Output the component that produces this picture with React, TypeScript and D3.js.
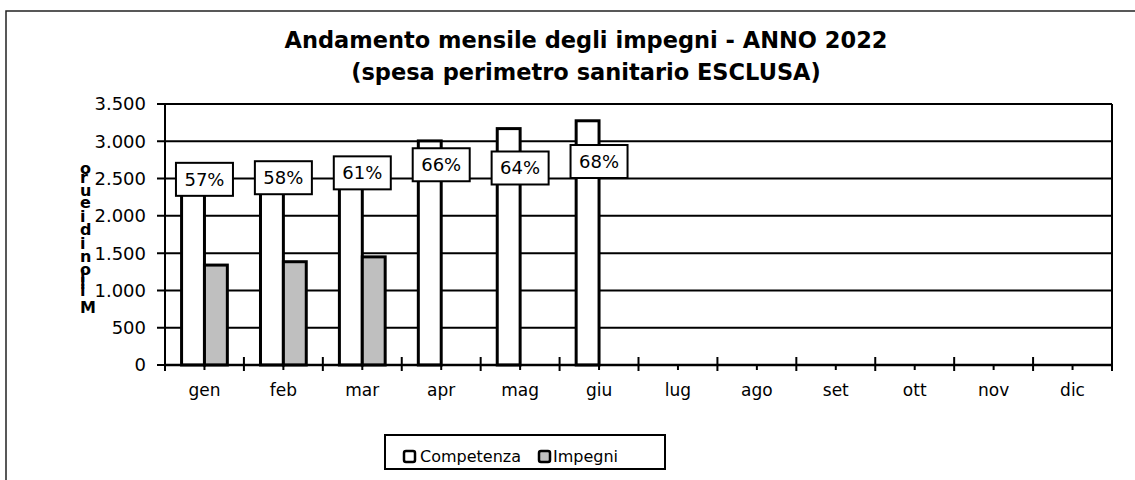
import React from 'react';
import * as d3 from 'd3';

const months = ['gen', 'feb', 'mar', 'apr', 'mag', 'giu', 'lug', 'ago', 'set', 'ott', 'nov', 'dic'];
const competenza = [2350, 2390, 2380, 3005, 3170, 3275];
const impegni = [1340, 1385, 1450];
const percentuali = [0.57, 0.58, 0.61, 0.66, 0.64, 0.68];
const yTicks = [0, 500, 1000, 1500, 2000, 2500, 3000, 3500];
const yLabel = 'Milioni di euro';
const title1 = 'Andamento mensile degli impegni - ANNO 2022';
const title2 = '(spesa perimetro sanitario ESCLUSA)';

const W = 1135;
const H = 480;
const plot = { left: 165, right: 1112, top: 104, bottom: 365 };
const font = '"DejaVu Sans", Verdana, sans-serif';

const itFormat = d3.formatLocale({ decimal: ',', thousands: '.', grouping: [3], currency: ['€', ''] }).format(',d');

export default function App() {
  const x = d3.scaleBand<string>().domain(months).range([plot.left, plot.right]);
  const y = d3.scaleLinear().domain([0, 3500]).range([plot.bottom, plot.top]);
  // labels sit on a hidden secondary series
  const y2 = d3.scaleLinear().domain([-0.576, 1.035]).range([plot.bottom, plot.top]);
  const bw = x.bandwidth();
  const barW = bw * 0.29;
  const offs = bw * 0.21;
  const pct = d3.format('.0%');

  const boundaries = months.map((m) => x(m)!).concat([plot.right]);

  return (
    <svg width={W} height={H} style={{ position: 'absolute', left: 0, top: 0 }} fontFamily={font}>
      <rect x={0} y={0} width={W} height={H} fill="#fff" />
      <rect x={6} y={11} width={W + 20} height={H + 20} fill="none" stroke="#222" strokeWidth={1.5} />

      <text x={586} y={48} textAnchor="middle" fontSize={22.5} fontWeight="bold">{title1}</text>
      <text x={586} y={80} textAnchor="middle" fontSize={22.5} fontWeight="bold">{title2}</text>

      {/* grid */}
      {yTicks.map((t) => (
        <line key={t} x1={plot.left - 8} x2={plot.right} y1={y(t)} y2={y(t)} stroke="#000" strokeWidth={2} />
      ))}
      <line x1={plot.right} x2={plot.right} y1={plot.top} y2={plot.bottom + 6} stroke="#000" strokeWidth={2} />

      {yTicks.map((t) => (
        <text key={'l' + t} x={146} y={y(t)} dy="0.36em" textAnchor="end" fontSize={18}>{itFormat(t)}</text>
      ))}

      {/* bars */}
      {competenza.map((v, i) => (
        <rect key={'c' + i} x={x(months[i])! + offs} y={y(v)} width={barW} height={y(0) - y(v)}
          fill="#fff" stroke="#000" strokeWidth={3} />
      ))}
      {impegni.map((v, i) => (
        <rect key={'i' + i} x={x(months[i])! + offs + barW} y={y(v)} width={barW} height={y(0) - y(v)}
          fill="#bfbfbf" stroke="#000" strokeWidth={3} />
      ))}

      {/* axes */}
      <line x1={plot.left} x2={plot.right} y1={plot.bottom} y2={plot.bottom} stroke="#000" strokeWidth={2.5} />
      <line x1={plot.left} x2={plot.left} y1={plot.top} y2={plot.bottom + 6} stroke="#000" strokeWidth={2} />
      {boundaries.map((b, i) => (
        <line key={'t' + i} x1={b} x2={b} y1={plot.bottom - 8} y2={plot.bottom + 6} stroke="#000" strokeWidth={2} />
      ))}
      {months.map((m) => (
        <line key={'mt' + m} x1={x(m)! + bw / 2} x2={x(m)! + bw / 2} y1={plot.bottom} y2={plot.bottom + 5} stroke="#000" strokeWidth={2} />
      ))}
      {months.map((m) => (
        <text key={'m' + m} x={x(m)! + bw / 2} y={396} textAnchor="middle" fontSize={17}>{m}</text>
      ))}

      {/* percentage labels */}
      {percentuali.map((p, i) => {
        const cx = x(months[i])! + bw / 2;
        const cy = y2(p);
        return (
          <g key={'p' + i}>
            <rect x={cx - 28.5} y={cy - 16.5} width={57} height={33} fill="#fff" stroke="#000" strokeWidth={2} />
            <text x={cx} y={cy} dy="0.36em" textAnchor="middle" fontSize={18}>{pct(p)}</text>
          </g>
        );
      })}

      {/* y axis title: rotated line, glyphs kept upright */}
      <text transform="translate(80,313) rotate(-90)" rotate="90" fontSize={16} fontWeight="bold" letterSpacing={1.5}>
        {yLabel}
      </text>

      {/* legend */}
      <rect x={385} y={435} width={280} height={34} fill="#fff" stroke="#000" strokeWidth={2} />
      <rect x={404} y={451} width={11} height={11} rx={2} fill="#fff" stroke="#000" strokeWidth={2.5} />
      <text x={420} y={462} fontSize={16}>Competenza</text>
      <rect x={539} y={451} width={11} height={11} rx={2} fill="#bfbfbf" stroke="#000" strokeWidth={2.5} />
      <text x={553} y={462} fontSize={16}>Impegni</text>
    </svg>
  );
}
